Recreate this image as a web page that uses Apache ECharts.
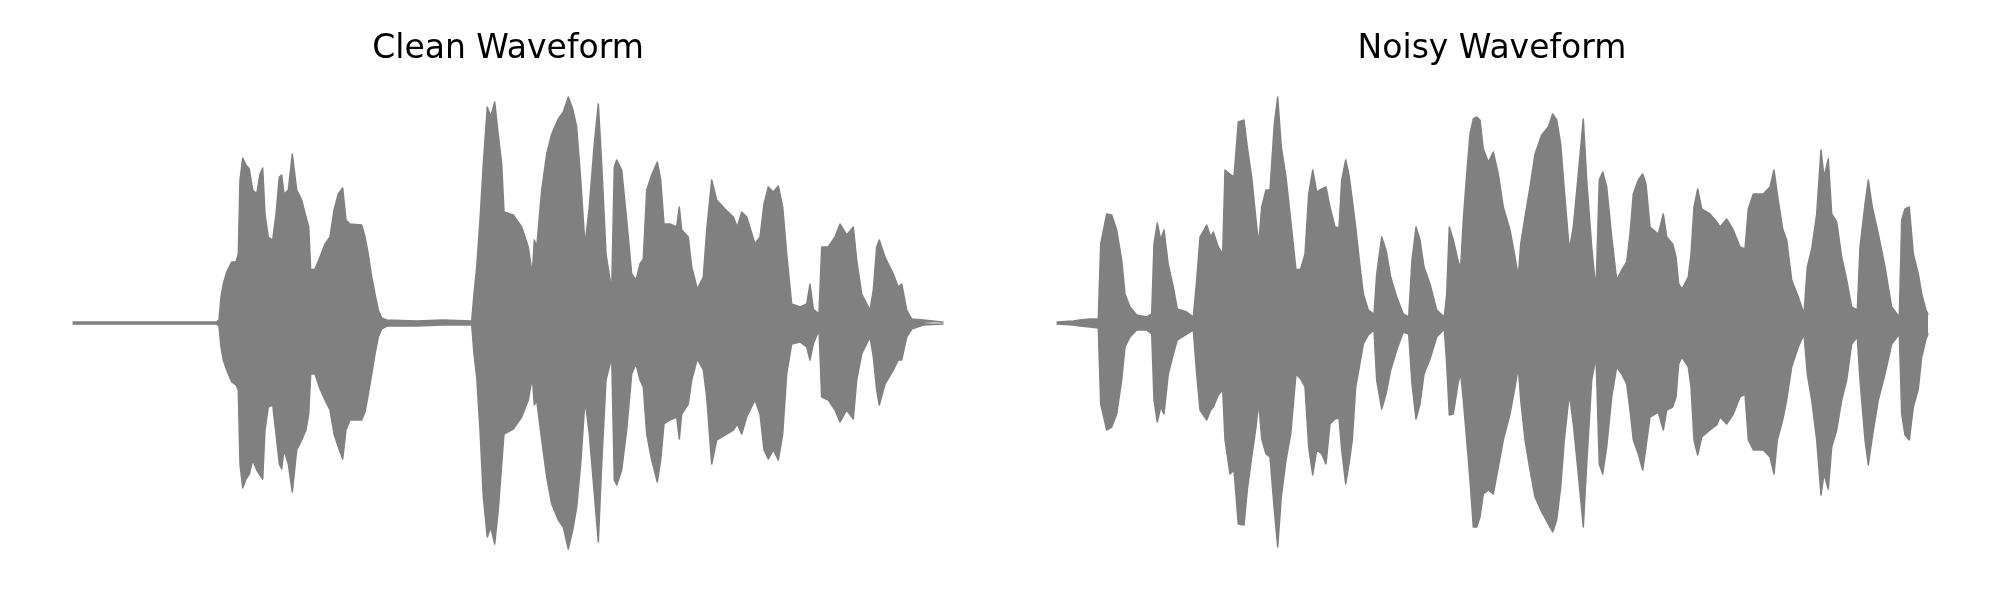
<!DOCTYPE html>
<html>
<head>
<meta charset="utf-8">
<script src="https://cdn.jsdelivr.net/npm/echarts@6/dist/echarts.min.js"></script>
<style>
  html, body { margin: 0; padding: 0; background: #ffffff; }
  #chart { width: 2000px; height: 600px; }
</style>
</head>
<body>
<div id="chart"></div>
<script>
// Panel titles
const titles = ['Clean Waveform', 'Noisy Waveform'];

// Clean waveform envelope (time index, upper amplitude, lower amplitude)
const cleanT = [0,143,146,148,150.3,153.7,158.7,163,165.3,167,169.7,173,176.3,179.7,183.7,187,189.7,192,195.3,199.7,203,206.3,208.7,211,215.3,219.3,223.7,228.7,233,235.7,237.7,242,247,252,257,261,265.3,269.7,273,277,288.7,292,295.3,298.7,302,305.3,308.7,313.7,343.7,370,398.7,401,403.7,407,410.3,414.3,417.7,421.7,425.3,428.7,431,440.3,448.7,455.3,459.3,461.3,463.7,468.7,473.7,478.7,485.3,490.3,495.3,499.7,503.7,507.7,512,516.3,521,525.3,528.7,533,538.7,541.3,543.7,548.7,553.7,558.7,563,567,570.3,573.7,578.7,584.3,587.7,591,597,603.7,606.3,608.7,615.3,618.7,624.3,630.3,633.7,638.7,643.7,652,660.3,664.3,668.7,673.7,682,687,691,695.3,700.3,705.3,709.7,713.7,718.7,727,733.7,737,740.3,746,748.7,755.3,762,767,773.7,780.3,783.7,788.7,797,800.3,803.7,806.3,812,820.3,825.3,828.7,833.7,838.7,850.3,868.7,870];
const cleanUpper = [1,1,3,26,39,51,61,61,69,143,165,158,154,133,129,149,155,109,86,83,109,146,148,129,133,169,133,123,106,96,53,54,66,79,86,113,129,135,103,99,98,86,69,46,29,13,5,3,2,3,2,29,56,103,159,216,206,221,188,159,111,108,96,76,49,83,76,133,169,189,204,211,226,214,196,143,78,116,176,219,159,69,33,156,163,153,103,49,43,59,64,133,148,161,143,99,99,96,116,93,86,56,34,46,93,143,123,114,106,96,111,106,79,86,119,136,131,137,116,69,19,16,19,39,14,9,76,76,86,99,88,96,63,29,13,33,76,83,66,49,36,39,13,4,3,1,1];
const cleanLower = [1,1,3,24,37,47,59,62,67,141,165,156,151,137,147,152,156,107,84,82,111,141,146,127,141,169,127,117,107,91,51,51,66,77,87,111,124,136,107,97,97,89,71,51,31,14,6,3,3,2,2,31,54,107,174,214,204,221,187,141,111,106,94,77,54,82,77,117,154,181,197,204,226,207,184,141,77,111,167,219,141,57,34,157,162,147,107,51,41,57,64,111,137,159,137,101,97,94,116,91,81,57,36,47,74,141,117,112,107,101,111,94,77,91,127,136,127,137,111,51,21,19,24,37,21,7,74,77,87,99,87,96,57,31,14,34,67,82,61,47,37,37,14,6,2,1,1];

// Noisy waveform envelope (time index, upper amplitude, lower amplitude)
const noisyT = [0,16.3,23,33,41.3,43.7,49.7,54.7,59.7,64.7,68,73,79.7,89.7,94.7,97,100.3,103.7,107,111.3,116.3,120.3,129.7,136.3,139.7,143,149.7,153.7,156.3,161.3,165.7,168,173,177,181.3,187,190.3,194.7,199,201.7,204.7,209,213,217.3,220.7,224.3,229,233.7,239,243.7,248,251.7,255.7,259.7,264.7,269,273,278,282,284.7,288.7,292,295.3,298.7,302.3,306.3,311.3,317,319.7,324.7,329,333.7,339.7,346.3,351.7,355,359,363,367,373,379.7,387.3,389.7,392.3,396.3,401.3,403.7,406.3,409.7,413,416.3,419.7,423,426.3,431.3,436.3,441.3,446.3,453,458,461.3,463.7,468,473,478,484.7,491.3,495.7,499.7,503.7,507.3,512.3,516.3,521.3,526.3,529.7,534.7,539,542.3,545.7,549.7,554.7,559.7,564.7,569.7,573,576.3,581.3,585.7,589,593,601.3,606.3,609.7,615.7,619,621.7,625,631.3,634,637,640.7,644.7,653,659.7,663,669.7,676.3,683,688,691.3,696.3,706.3,713,717,720.3,725.7,729.7,734.7,741.3,747,750.3,754.7,759.7,764,767,771.3,774.7,779.7,784.7,789.7,794.7,800.3,803,808,811.3,815.3,821.3,828,834.7,842.3,844.7,848,852.3,856.3,861.3,864.7,869,871];
const noisyUpper = [1,2,3,4,4,79,109,108,93,63,29,16,8,6,9,79,100,83,93,58,36,14,11,6,43,86,98,86,91,76,69,153,149,146,201,203,176,146,103,79,116,133,133,199,226,176,146,103,53,54,69,129,153,131,134,136,116,96,95,143,163,148,123,96,63,29,13,9,49,86,73,46,26,9,6,63,96,83,56,39,13,6,29,96,83,61,56,103,149,189,204,206,203,174,161,171,149,116,93,66,46,79,106,136,169,188,196,209,203,179,133,73,96,149,204,143,76,33,143,151,136,86,43,53,61,89,129,143,149,139,96,89,109,86,79,66,39,34,46,69,116,134,114,109,101,96,104,93,76,74,114,129,129,136,153,129,94,83,43,26,9,56,74,109,173,146,164,109,101,66,43,16,13,76,119,143,116,89,56,16,6,103,114,116,69,49,29,13,9];
const noisyLower = [1,2,3,4,5,81,107,104,91,57,24,14,7,7,11,77,99,84,91,51,31,17,11,7,51,87,97,87,84,72,67,117,151,147,201,202,167,134,104,79,116,131,134,187,224,174,137,111,51,56,64,124,152,127,131,141,101,96,95,127,161,141,117,64,44,21,12,7,57,86,71,47,27,9,11,61,96,81,51,36,14,6,41,92,91,59,51,77,117,157,204,204,194,171,167,171,144,117,91,64,44,77,117,147,174,189,201,209,197,164,117,71,101,151,204,141,57,34,141,151,124,74,44,51,61,87,117,131,147,124,94,89,107,87,84,74,41,34,44,64,117,132,114,107,102,94,101,91,74,71,117,127,127,134,151,117,97,77,44,24,11,51,77,117,172,151,166,124,107,77,57,21,14,57,117,142,114,77,51,21,11,91,112,117,84,66,34,16,11];

const GRAY = '#808080';

function pairs(ts, vs, sign) {
  return ts.map((t, i) => [t, sign * vs[i]]);
}

function envSeries(idx, ts, vs, sign) {
  return {
    type: 'line',
    xAxisIndex: idx,
    yAxisIndex: idx,
    data: pairs(ts, vs, sign),
    showSymbol: false,
    symbol: 'none',
    smooth: false,
    sampling: null,
    silent: true,
    lineStyle: { color: GRAY, width: 1.5, join: 'round', cap: 'round' },
    areaStyle: { color: GRAY, opacity: 1 },
    z: 2
  };
}

const titleStyle = { fontFamily: 'DejaVu Sans', fontSize: 33, fontWeight: 'normal', color: '#000000' };

const chart = echarts.init(document.getElementById('chart'), null, { renderer: 'canvas' });
chart.setOption({
  animation: false,
  backgroundColor: '#ffffff',
  title: [
    { text: titles[0], left: 503, top: 28, textAlign: 'center', textStyle: titleStyle },
    { text: titles[1], left: 1487, top: 28, textAlign: 'center', textStyle: titleStyle }
  ],
  grid: [
    { left: 73, top: 83, width: 870, height: 480 },
    { left: 1057, top: 83, width: 871, height: 480 }
  ],
  xAxis: [
    { type: 'value', gridIndex: 0, min: 0, max: 870, show: false },
    { type: 'value', gridIndex: 1, min: 0, max: 871, show: false }
  ],
  yAxis: [
    { type: 'value', gridIndex: 0, min: -240, max: 240, show: false },
    { type: 'value', gridIndex: 1, min: -240, max: 240, show: false }
  ],
  series: [
    envSeries(0, cleanT, cleanUpper, 1),
    envSeries(0, cleanT, cleanLower, -1),
    envSeries(1, noisyT, noisyUpper, 1),
    envSeries(1, noisyT, noisyLower, -1)
  ]
});
</script>
</body>
</html>
